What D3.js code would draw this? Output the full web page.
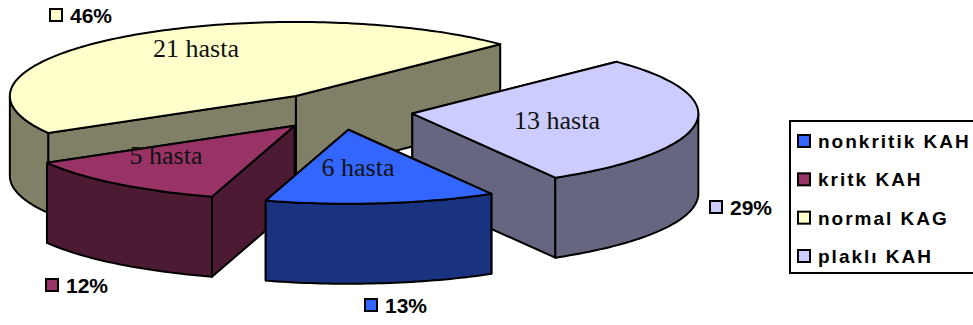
<!DOCTYPE html>
<html>
<head>
<meta charset="utf-8">
<script src="https://cdn.jsdelivr.net/npm/d3@7"></script>
<style>
  html, body { margin: 0; padding: 0; background: #fff; }
  svg { display: block; }
</style>
</head>
<body>
<svg id="chart" width="973" height="325"></svg>
<script>
// Slice data, in drawing order around the pie
const categories = ["nonkritik KAH", "kritk KAH", "normal KAG", "plaklı KAH"];
const percents = [13, 12, 46, 29];
const patients = ["6 hasta", "5 hasta", "21 hasta", "13 hasta"];
const topColors = ["#3366FF", "#993366", "#FFFFCC", "#CCCCFF"];
const sideColors = ["#1A3380", "#4D1A33", "#808066", "#666680"];

// Projection of the tilted pie
const centre = { x: 340, y: 111 };
const radiusX = 286, radiusY = 74, thickness = 80, explode = 73;
const firstAngle = 150 * Math.PI / 180;

const slices = d3.pie().sort(null).value(d => d)
  .startAngle(firstAngle).endAngle(firstAngle + 2 * Math.PI)(percents);

const sx = d3.scaleLinear().domain([-1, 1]).range([-radiusX, radiusX]);
const sy = d3.scaleLinear().domain([-1, 1]).range([-radiusY, radiusY]);

const svg = d3.select("#chart");
const line = d3.line();

const ring = (a, o, dy = 0) => [o.x + sx(Math.sin(a)), o.y + sy(-Math.cos(a)) + dy];
const arcPoints = (a0, a1, o, dy = 0) => {
  const n = Math.max(2, Math.ceil((a1 - a0) / 0.02));
  return d3.range(n + 1).map(i => ring(a0 + (a1 - a0) * i / n, o, dy));
};
const face = (pts, fill) => svg.append("path")
  .attr("d", line(pts) + "Z")
  .attr("fill", fill)
  .attr("stroke", "#000")
  .attr("stroke-width", 2)
  .attr("stroke-linejoin", "round");

// Back-to-front: big slice, right slice, then the two front slices
[2, 3, 1, 0].forEach(i => {
  const s = slices[i];
  const mid = (s.startAngle + s.endAngle) / 2;
  const o = {
    x: centre.x + sx(Math.sin(mid)) * explode / radiusX,
    y: centre.y + sy(-Math.cos(mid)) * explode / radiusX
  };

  // Cut walls from the apex out to each rim end, farther wall first
  const walls = [s.startAngle, s.endAngle]
    .map(a => ring(a, o))
    .sort((p, q) => p[1] - q[1]);
  walls.forEach(p => face([[o.x, o.y], p, [p[0], p[1] + thickness], [o.x, o.y + thickness]], sideColors[i]));

  // Outer rim wall, only along the front half of the ellipse
  const turns = d3.range(-1, 3).map(k => [Math.PI / 2 + 2 * k * Math.PI, 3 * Math.PI / 2 + 2 * k * Math.PI]);
  turns.forEach(([f0, f1]) => {
    const a0 = Math.max(s.startAngle, f0), a1 = Math.min(s.endAngle, f1);
    if (a1 > a0) {
      face(arcPoints(a0, a1, o).concat(arcPoints(a0, a1, o, thickness).reverse()), sideColors[i]);
    }
  });

  // Top surface
  face([[o.x, o.y]].concat(arcPoints(s.startAngle, s.endAngle, o)), topColors[i]);
});

// Patient counts on the slice tops
const countPos = [[358, 167], [166, 155], [196, 48], [557, 120]];
svg.selectAll("text.count").data(patients).join("text")
  .attr("class", "count")
  .attr("x", (d, i) => countPos[i][0])
  .attr("y", (d, i) => countPos[i][1])
  .attr("dy", "0.35em")
  .attr("text-anchor", "middle")
  .attr("font-family", "'Liberation Serif', serif")
  .attr("font-size", 26)
  .attr("fill", "#111")
  .text(d => d);

// Percentage labels with their colour keys
const labelPos = [[364, 305], [45, 285], [49, 15], [709, 207]];
const keys = svg.append("g");
percents.forEach((p, i) => {
  const [x, y] = labelPos[i];
  keys.append("rect").attr("x", x + 1).attr("y", y - 6).attr("width", 12).attr("height", 12)
    .attr("fill", topColors[i]).attr("stroke", "#000").attr("stroke-width", 2);
  keys.append("text").attr("x", x + 21).attr("y", y).attr("dy", "0.36em")
    .attr("font-family", "'Liberation Sans', Arial, sans-serif")
    .attr("font-weight", "bold").attr("font-size", 21).attr("fill", "#000")
    .text(p + "%");
});

// Legend box, running off the right edge
const legendBox = { x: 790, y: 121, w: 200, h: 152 };
svg.append("rect").attr("x", legendBox.x).attr("y", legendBox.y)
  .attr("width", legendBox.w).attr("height", legendBox.h)
  .attr("fill", "#fff").attr("stroke", "#000").attr("stroke-width", 2);
const legendY = d3.scalePoint().domain(categories).range([141, 256]);
categories.forEach((c, i) => {
  const y = legendY(c);
  svg.append("rect").attr("x", 798).attr("y", y - 6).attr("width", 12).attr("height", 12)
    .attr("fill", topColors[i]).attr("stroke", "#000").attr("stroke-width", 2);
  svg.append("text").attr("x", 818).attr("y", y).attr("dy", "0.36em")
    .attr("font-family", "'Liberation Sans', Arial, sans-serif")
    .attr("font-weight", "bold").attr("font-size", 19).attr("letter-spacing", 2)
    .attr("fill", "#000").text(c);
});
</script>
</body>
</html>
